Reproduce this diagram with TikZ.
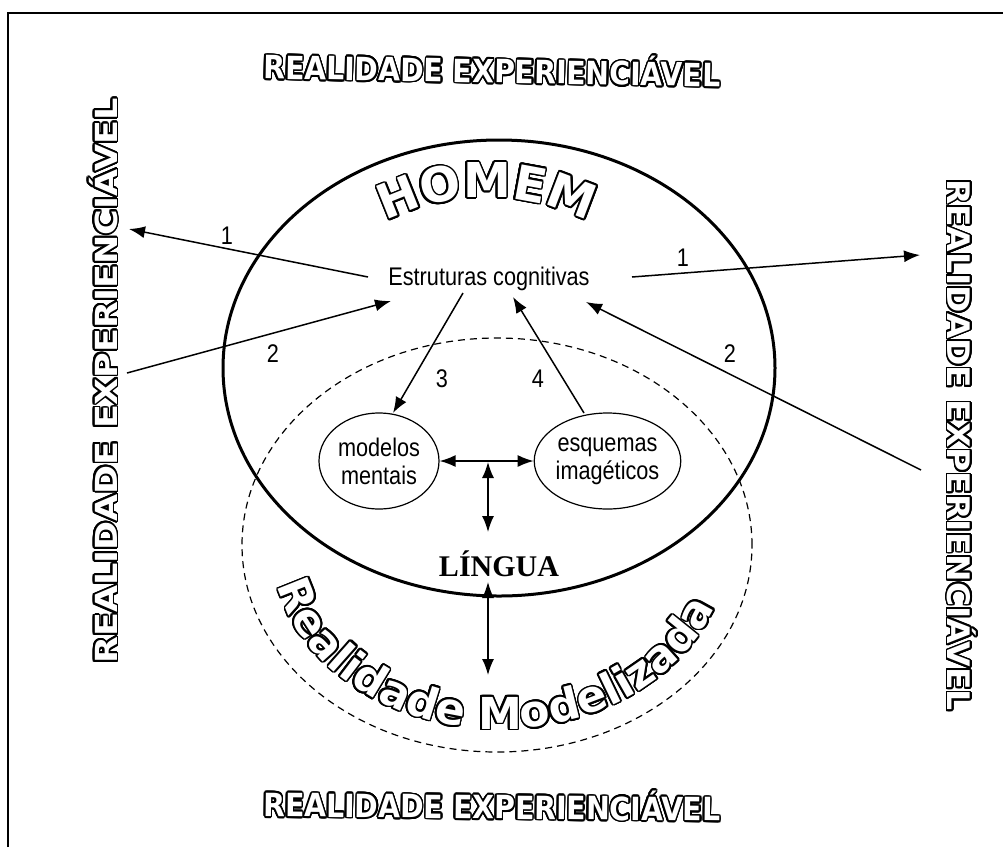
\documentclass[tikz,border=0pt]{standalone}
\usepackage{fontspec}
\usepackage{contour}
\usetikzlibrary{arrows.meta,shapes.geometric}
\newfontfamily\olfont{DejaVu Sans}
\newfontfamily\narrowfont{Liberation Sans}[FakeStretch=0.85]
\newfontfamily\serifb{Liberation Serif}
\contourlength{1.7pt}
\contournumber{24}
\newcommand\outl[1]{{\color{white}\contour{black}{#1}}}
% #1 cx, #2 cy, #3 a, #4 b, #5 direction (+1/-1), #6 font size, #7 char/angle list, #8 name prefix
\newcommand\arcchars[8]{%
  \foreach \ch/\ta [count=\k] in {#7}{%
    \pgfmathsetmacro\rotang{atan2((#5)*(#4)/(#3)*cos(\ta),-(#5)*sin(\ta))}%
    \node[rotate=\rotang,anchor=base,inner sep=0pt] (#8\k) at ({#1+(#3)*cos(\ta)},{#2-(#4)*sin(\ta)}) {\olfont\bfseries\fontsize{#6}{#6}\selectfont\outl{\ch}};%
  }%
}
\begin{document}
\begin{tikzpicture}[x=1pt,y=-1pt,
  arr/.style={line width=1.5pt,-{Latex[length=16pt,width=12pt]}},
  darr/.style={line width=1.5pt,{Latex[length=16pt,width=12pt]}-{Latex[length=16pt,width=12pt]}},
  lbl/.style={font=\narrowfont\fontsize{25.5}{25.5}\selectfont,inner sep=0pt},
  smallell/.style={draw,ellipse,line width=1.2pt,inner sep=0pt,align=center,
    font=\narrowfont\fontsize{25.5}{28}\selectfont},
  bigtxt/.style={font=\olfont\bfseries\fontsize{32}{34}\selectfont,inner sep=0pt}
]
\useasboundingbox (0,0) rectangle (1003,847);
\fill[white] (0,0) rectangle (1003,847);
\draw[line width=2pt] (8,847) -- (8,13) -- (1003,13);

% ellipses
\node[draw,ellipse,line width=3pt,minimum width=552pt,minimum height=456pt,inner sep=0pt] (homem) at (499,368) {};
\node[draw,ellipse,line width=1.2pt,dash pattern=on 7pt off 5pt,minimum width=510pt,minimum height=414pt,inner sep=0pt] (realmod) at (497,545) {};
\node[smallell,minimum width=120pt,minimum height=96pt] (mm) at (379,461) {modelos\\mentais};
\node[smallell,minimum width=145pt,minimum height=96pt] (ei) at (607.5,461) {esquemas\\imagéticos};

% central texts
\node[lbl] (est) at (489,279) {Estruturas cognitivas};
\node[font=\serifb\bfseries\fontsize{30}{30}\selectfont,inner sep=0pt] (lingua) at (499,564) {LÍNGUA};

% coordinates of connector ends
\coordinate (a1s) at (368,277);
\coordinate (a1e) at (129,229);
\coordinate (a2s) at (127,373);
\coordinate (a2e) at (391,301);
\coordinate (b1s) at (632,277);
\coordinate (b1e) at (920,255);
\coordinate (b2s) at (921,470);
\coordinate (b2e) at (586,302);
\coordinate (c3s) at (463,293);
\coordinate (c3e) at (393,413);
\coordinate (c4s) at (584,413);
\coordinate (c4e) at (513,297);
\coordinate (v1a) at (488,462);
\coordinate (v1b) at (488,532);
\coordinate (v2a) at (488,582);
\coordinate (v2b) at (488,675);

\draw[arr] (a1s) -- (a1e);
\draw[arr] (a2s) -- (a2e);
\draw[arr] (b1s) -- (b1e);
\draw[arr] (b2s) -- (b2e);
\draw[arr] (c3s) -- (c3e);
\draw[arr] (c4s) -- (c4e);
\draw[darr] (mm.east) -- (ei.west);
\draw[darr] (v1a) -- (v1b);
\draw[darr] (v2a) -- (v2b);

% number labels
\node[lbl] (n1l) at (227,236) {1};
\node[lbl] (n2l) at (273,354) {2};
\node[lbl] (n1r) at (683,258) {1};
\node[lbl] (n2r) at (730,354) {2};
\node[lbl] (n3) at (442,379) {3};
\node[lbl] (n4) at (538,379) {4};

% outlined texts
\node[bigtxt,rotate=-1,xscale=0.885] (rtop) at (492,69) {\outl{REALIDADE EXPERIENCIÁVEL}};
\node[bigtxt,rotate=-0.6,xscale=0.885] (rbot) at (492,805) {\outl{REALIDADE EXPERIENCIÁVEL}};
\node[bigtxt,rotate=90,xscale=1.095,yscale=0.95] (rleft) at (104,381) {\outl{REALIDADE EXPERIENCIÁVEL}};
\node[bigtxt,rotate=-90,xscale=1.03,yscale=0.97] (rright) at (961,445) {\outl{REALIDADE EXPERIENCIÁVEL}};

\arcchars{487}{420}{222.5}{222.5}{-1}{48}{H/111.8,O/101.4,M/90,E/79.6,M/69.2}{hm}
\arcchars{500}{545}{228}{184}{1}{44}{R/197.9,e/207.4,a/216.0,l/222.4,i/226.6,d/232.9,a/241.1,d/249.0,e/256.8,M/270,o/279.3,d/287.2,e/295.1,l/300.9,i/305.0,z/310.5,a/318.2,d/326.9,a/335.9}{rm}
\end{tikzpicture}
\end{document}
